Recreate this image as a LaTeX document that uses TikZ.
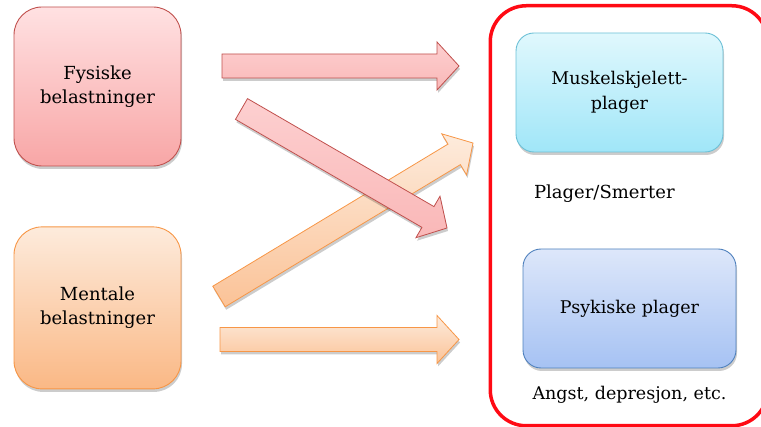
\documentclass[tikz,border=0pt]{standalone}
\usepackage{fontspec}
\setmainfont{DejaVu Serif}
\usetikzlibrary{positioning}
\usetikzlibrary{calc}
\usetikzlibrary{shadows}

\definecolor{pinktop}{HTML}{FFE1E2}
\definecolor{pinkbot}{HTML}{F8A6A6}
\definecolor{pinkline}{HTML}{C0504D}
\definecolor{orangetop}{HTML}{FDEBDC}
\definecolor{orangebot}{HTML}{FAB885}
\definecolor{orangeline}{HTML}{F79646}
\definecolor{cyantop}{HTML}{E0F8FD}
\definecolor{cyanbot}{HTML}{A0E6F8}
\definecolor{cyanline}{HTML}{6CC0D6}
\definecolor{bluetop}{HTML}{DDE7FA}
\definecolor{bluebot}{HTML}{A6C2F3}
\definecolor{blueline}{HTML}{4F81BD}
\definecolor{framered}{HTML}{FF0A14}

\tikzset{
  softshadow/.style={drop shadow={shadow xshift=1pt, shadow yshift=-3pt, opacity=0.2, fill=black}},
  loadbox/.style={draw, line width=0.9pt, rounded corners=28pt, align=center,
    softshadow, font=\fontsize{18}{24}\selectfont},
  effectbox/.style={draw, line width=0.9pt, rounded corners=18pt, align=center,
    softshadow, font=\fontsize{17.5}{25}\selectfont},
  pinkarrow/.style={draw=pinkline, line width=0.8pt, top color=pinktop!70!pinkbot,
    bottom color=pinkbot!80!white, softshadow},
  orangearrow/.style={draw=orangeline, line width=0.8pt, top color=orangetop,
    bottom color=orangebot!85!white, softshadow},
}

% block arrow from tail to tip
\newcommand*{\BlockArrow}[3]{%
  \coordinate (hb) at ($(#2)!22pt!(#1)$);
  \draw[#3] ($(#1)!12pt!90:(#2)$) -- ($(hb)!12pt!90:(#2)$)
    -- ($(hb)!24pt!90:(#2)$) -- (#2) -- ($(hb)!24pt!-90:(#2)$)
    -- ($(hb)!12pt!-90:(#2)$) -- ($(#1)!12pt!-90:(#2)$) -- cycle;
}

\begin{document}
\begin{tikzpicture}[x=1pt, y=-1pt]
\clip (0,0) rectangle (761,427);
\useasboundingbox (0,0) rectangle (761,427);

% Loads
\node[loadbox, draw=pinkline, top color=pinktop, bottom color=pinkbot,
    minimum width=167pt, minimum height=159pt] (fysiske) at (97.5,86.5)
    {Fysiske\\belastninger};
\node[loadbox, draw=orangeline, top color=orangetop, bottom color=orangebot,
    minimum width=167pt, minimum height=162pt,
    below=60pt of fysiske] (mentale) {Mentale\\belastninger};

% Effects
\node[draw=framered, line width=3.5pt, rounded corners=36pt,
    minimum width=277.5pt, minimum height=420pt] (effekt) at (629,215.75) {};
\node[effectbox, draw=cyanline, top color=cyantop, bottom color=cyanbot,
    minimum width=207pt, minimum height=119pt] (muskel) at (619.5,92.5)
    {Muskelskjelett-\\plager};
\node[font=\fontsize{18}{20}\selectfont, below=29pt of muskel.south west, anchor=north west,
    xshift=15pt] (smerter) {Plager/Smerter};
\node[effectbox, draw=blueline, top color=bluetop, bottom color=bluebot,
    minimum width=213pt, minimum height=119pt] (psykiske) at (629.5,308.5)
    {Psykiske plager};
\node[font=\fontsize{17.5}{20}\selectfont, below=14pt of psykiske] (angst)
    {Angst, depresjon, etc.};

% Arrows
\coordinate (a1) at (222,66);
\coordinate (b1) at (459,66);
\coordinate (a2) at (241.5,109);
\coordinate (b2) at (447,228);
\coordinate (a3) at (219,296.5);
\coordinate (b3) at (473,143);
\coordinate (a4) at (220,339.5);
\coordinate (b4) at (459,339.5);

\BlockArrow{a1}{b1}{pinkarrow}
\BlockArrow{a3}{b3}{orangearrow}
\BlockArrow{a2}{b2}{pinkarrow}
\BlockArrow{a4}{b4}{orangearrow}
\end{tikzpicture}
\end{document}
